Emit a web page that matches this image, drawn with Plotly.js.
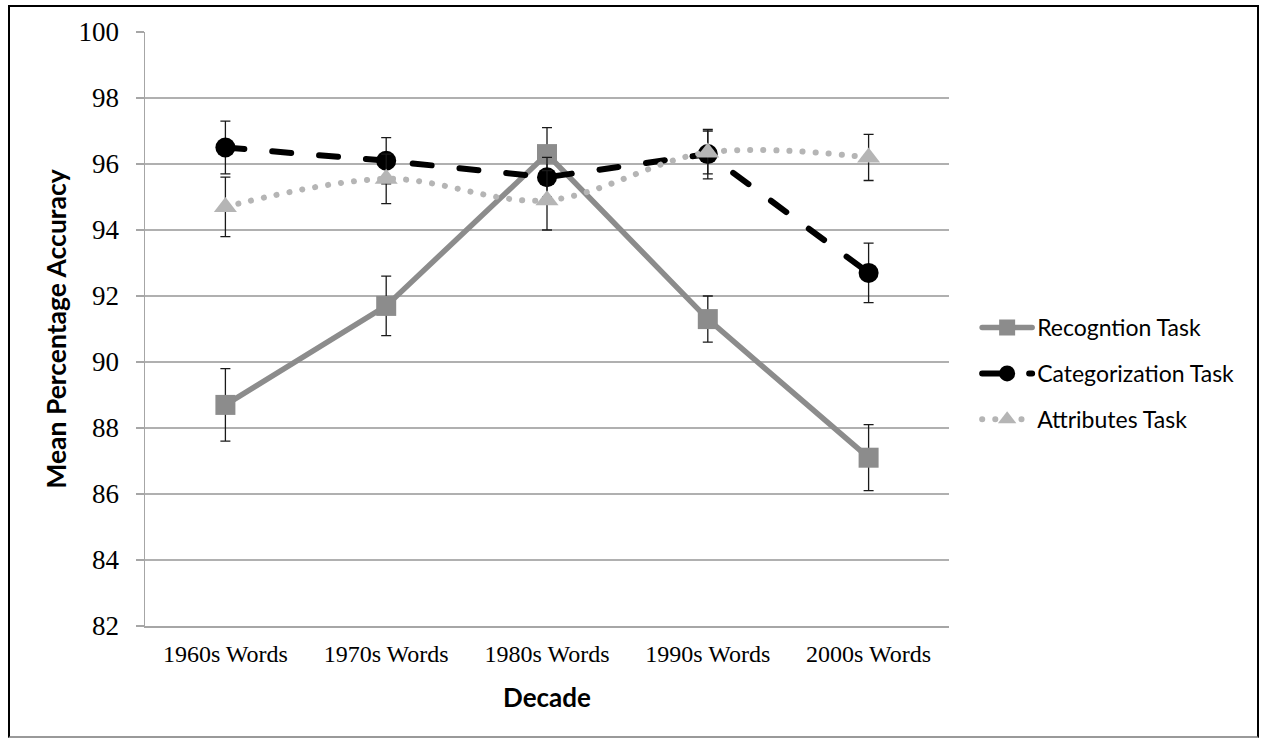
<!DOCTYPE html>
<html>
<head>
<meta charset="utf-8">
<script src="https://cdn.plot.ly/plotly-3.0.1.min.js"></script>
<style>
  html, body { margin: 0; padding: 0; background: #fff; }
  #wrap { position: relative; width: 1261px; height: 738px; }
  #chart { position: absolute; left: 0; top: 0; width: 1261px; height: 738px; }
  #frame { position: absolute; left: 8px; top: 5px; width: 1247px; height: 729px;
           border: 2px solid #000; border-bottom-color: #999; pointer-events: none; }
  .scatterlayer .js-line, .legendlines path { stroke-linecap: round; }
</style>
</head>
<body>
<div id="wrap">
  <div id="chart"></div>
  <div id="frame"></div>
</div>
<script>
const categories = ['1960s Words', '1970s Words', '1980s Words', '1990s Words', '2000s Words'];

const recognition = [88.7, 91.7, 96.3, 91.3, 87.1];
const recognitionErr = [1.1, 0.9, 0.8, 0.7, 1.0];

const categorization = [96.5, 96.1, 95.6, 96.3, 92.7];
const categorizationErr = [0.8, 0.7, 0.6, 0.75, 0.9];

const attributes = [94.7, 95.55, 94.9, 96.35, 96.2];
const attributesErr = [0.9, 0.75, 0.9, 0.65, 0.7];

const yTicks = [82, 84, 86, 88, 90, 92, 94, 96, 98, 100];

const errStyle = (arr) => ({ type: 'data', array: arr, visible: true, color: '#1a1a1a', thickness: 1.3, width: 5 });

const traces = [
  {
    x: categories, y: recognition, name: 'Recogntion Task', type: 'scatter', mode: 'lines+markers',
    legendgroup: 'a',
    line: { color: '#8c8c8c', width: 5.5 },
    marker: { symbol: 'square', size: 20, color: '#8c8c8c' },
    error_y: errStyle(recognitionErr)
  },
  {
    x: categories, y: categorization, name: 'Categorization Task', type: 'scatter', mode: 'lines+markers',
    legendgroup: 'b',
    line: { color: '#000000', width: 6, dash: '19px,28px' },
    marker: { symbol: 'circle', size: 20, color: '#000000' },
    error_y: errStyle(categorizationErr)
  },
  {
    x: categories, y: attributes, name: 'Attributes Task', type: 'scatter', mode: 'lines+markers',
    legendgroup: 'c',
    line: { color: '#b5b5b5', width: 6, dash: '0.1px,13px', shape: 'spline', smoothing: 1 },
    marker: { symbol: 'triangle-up', size: 20, color: '#b5b5b5' },
    error_y: errStyle(attributesErr)
  }
];

const layout = {
  width: 1261, height: 738,
  margin: { l: 145, r: 312, t: 32, b: 112 },
  paper_bgcolor: '#ffffff', plot_bgcolor: '#ffffff',
  showlegend: true,
  legend: {
    x: 1.035, xanchor: 'left', y: 0.425, yanchor: 'middle',
    font: { family: 'Lato, "Open Sans", sans-serif', size: 23, color: '#000' },
    itemwidth: 50, traceorder: 'grouped', tracegroupgap: 13,
    bgcolor: 'rgba(0,0,0,0)'
  },
  xaxis: {
    type: 'category', range: [-0.5, 4.5],
    showline: true, linecolor: '#a6a6a6', linewidth: 1.5,
    ticks: '', showgrid: false, zeroline: false,
    tickfont: { family: '"Liberation Serif", "Times New Roman", serif', size: 24, color: '#000' },
    ticklabelstandoff: 6,
    title: { text: 'Decade', font: { family: 'Lato, "Open Sans", sans-serif', size: 26, color: '#000', weight: 'bold' }, standoff: 22 }
  },
  yaxis: {
    range: [82, 100], tickvals: yTicks, ticktext: yTicks.map(String),
    showline: true, linecolor: '#a6a6a6', linewidth: 1.5,
    ticks: 'outside', ticklen: 8, tickcolor: '#a6a6a6', tickwidth: 1.2,
    showgrid: true, gridcolor: '#b0b0b0', gridwidth: 1.2, zeroline: false,
    tickfont: { family: '"Liberation Serif", "Times New Roman", serif', size: 27, color: '#000' },
    ticklabelstandoff: 11,
    title: { text: 'Mean Percentage Accuracy', font: { family: 'Lato, "Open Sans", sans-serif', size: 26.5, color: '#000', weight: 'bold' }, standoff: 4 }
  }
};

Plotly.newPlot('chart', traces, layout, { displayModeBar: false, staticPlot: true });
</script>
</body>
</html>
